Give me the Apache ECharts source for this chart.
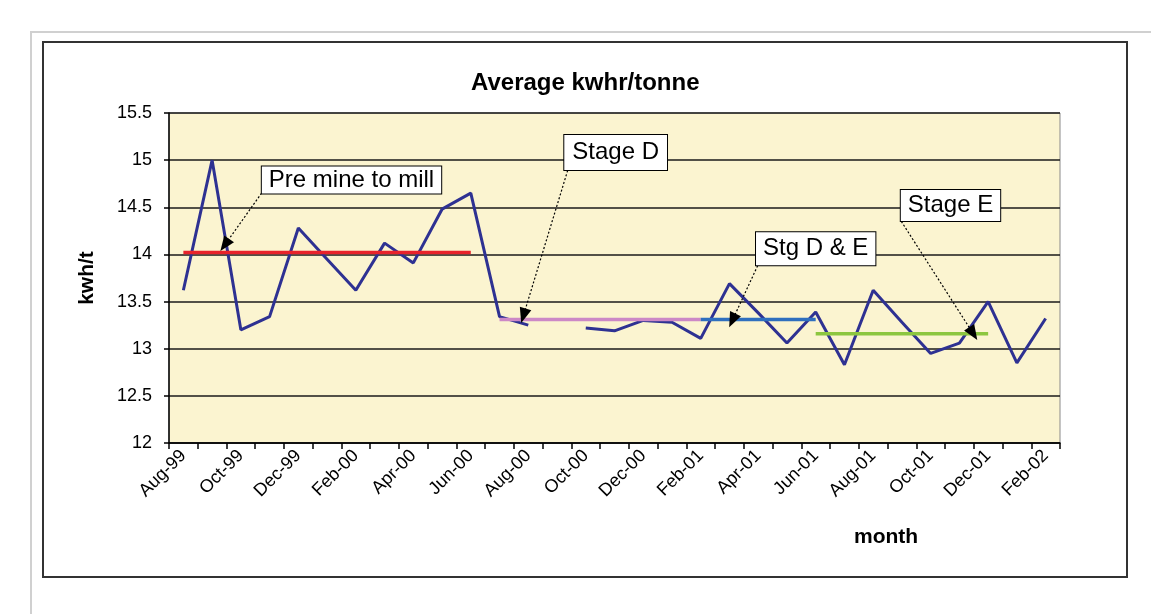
<!DOCTYPE html>
<html>
<head>
<meta charset="utf-8">
<title>Average kwhr/tonne</title>
<script src="https://cdn.jsdelivr.net/npm/echarts/dist/echarts.min.js"></script>
<style>
  html, body { margin: 0; padding: 0; background: #fff; }
  #energyChart { width: 1151px; height: 614px; }
</style>
</head>
<body>
<div id="energyChart"></div>
<script>
// months, Aug-99 .. Feb-02
var months = ['Aug-99','Sep-99','Oct-99','Nov-99','Dec-99','Jan-00','Feb-00','Mar-00','Apr-00','May-00','Jun-00','Jul-00',
              'Aug-00','Sep-00','Oct-00','Nov-00','Dec-00','Jan-01','Feb-01','Mar-01','Apr-01','May-01','Jun-01','Jul-01',
              'Aug-01','Sep-01','Oct-01','Nov-01','Dec-01','Jan-02','Feb-02'];
// average kwh/t per month (Sep-00 missing)
var kwht = [13.62, 15.00, 13.20, 13.34, 14.28, 13.95, 13.62, 14.12, 13.91, 14.48, 14.65, 13.34,
            13.25, null, 13.22, 13.19, 13.30, 13.28, 13.11, 13.69, 13.38, 13.06, 13.39, 12.83,
            13.62, 13.28, 12.95, 13.06, 13.50, 12.85, 13.32];
// stage averages: first month index, last month index, level
var stageNames = ['Pre mine to mill', 'Stage D', 'Stg D & E', 'Stage E'];
var stageStart = [0, 11, 18, 22];
var stageEnd   = [10, 18, 22, 28];
var stageLevel = [14.02, 13.31, 13.31, 13.16];
var stageColor = ['#e8232b', '#cc88c6', '#2f6fbe', '#8cc63f'];
// callouts: box centre, arrow start, arrow tip  [month index, kwh/t]
var noteBox  = [[5.85, 14.79], [15.04, 15.08], [22.00, 14.06], [26.69, 14.52]];
var noteFrom = [[2.72, 14.65], [13.37, 14.89], [19.98, 13.88], [24.98, 14.35]];
var noteTo   = [[1.44, 14.10], [11.83, 13.35], [19.10, 13.30], [27.48, 13.16]];
var notePad  = [[1, 7], [5, 8], [4, 7], [3, 7]];

var myChart = echarts.init(document.querySelector('#energyChart'));
var font = 'Liberation Sans, Arial, sans-serif';

var series = [{
  name: 'kwh/t',
  type: 'line',
  data: kwht,
  symbol: 'none',
  connectNulls: false,
  lineStyle: { color: '#2e3192', width: 3 },
  z: 3
}];
for (var s = 0; s < stageNames.length; s++) {
  var d = [];
  for (var i = 0; i < months.length; i++) {
    d.push(i >= stageStart[s] && i <= stageEnd[s] ? stageLevel[s] : null);
  }
  series.push({
    name: stageNames[s],
    type: 'line',
    data: d,
    symbol: 'none',
    lineStyle: { color: stageColor[s], width: 3.5 },
    z: 4
  });
}

var boxes = [], arrows = [];
for (var n = 0; n < stageNames.length; n++) {
  boxes.push({
    name: stageNames[n],
    coord: noteBox[n],
    label: { padding: notePad[n] }
  });
  arrows.push([{ coord: noteFrom[n] }, { coord: noteTo[n] }]);
}
// callouts live on a hidden value x axis so they can sit between months
series.push({
  type: 'scatter',
  xAxisIndex: 1,
  data: [],
  z: 6,
  markLine: {
    silent: true,
    symbol: ['none', 'triangle'],
    symbolSize: [12, 15],
    label: { show: false },
    lineStyle: { color: '#000', type: [2, 2], width: 1.2 },
    data: arrows
  },
  markPoint: {
    silent: true,
    symbol: 'rect',
    symbolSize: 0,
    label: {
      show: true,
      position: 'inside',
      formatter: '{b}',
      color: '#000',
      fontFamily: font,
      fontSize: 24,
      lineHeight: 25,
      backgroundColor: '#fff',
      borderColor: '#000',
      borderWidth: 1
    },
    data: boxes
  }
});

option = {
  animation: false,
  backgroundColor: '#fff',
  title: [{
    text: 'Average kwhr/tonne',
    left: 466,
    top: 66,
    textStyle: { fontFamily: font, fontSize: 24, fontWeight: 'bold', color: '#000' }
  }, {
    text: 'month',
    left: 849,
    top: 522,
    textStyle: { fontFamily: font, fontSize: 21, fontWeight: 'bold', color: '#000' }
  }],
  graphic: [{
    type: 'polyline',
    shape: { points: [[31, 614], [31, 32], [1151, 32]] },
    style: { stroke: '#d0d0d0', lineWidth: 2, fill: null },
    silent: true
  }, {
    type: 'rect',
    shape: { x: 43, y: 42, width: 1084, height: 535 },
    style: { stroke: '#333', lineWidth: 2, fill: null },
    silent: true
  }],
  grid: {
    left: 169,
    top: 113,
    width: 891,
    height: 330,
    show: true,
    backgroundColor: '#fbf4d0',
    borderColor: '#8a8a8a',
    borderWidth: 1
  },
  xAxis: [{
    type: 'category',
    data: months,
    boundaryGap: true,
    axisLine: { lineStyle: { color: '#000', width: 1.5 } },
    axisTick: { show: true, interval: 0, length: 6, lineStyle: { color: '#000', width: 1.5 } },
    axisLabel: {
      interval: 1,
      rotate: 45,
      margin: 10,
      color: '#000',
      fontFamily: font,
      fontSize: 18
    },
    splitLine: { show: false }
  }, {
    type: 'value',
    min: -0.5,
    max: 30.5,
    show: false,
    splitLine: { show: false }
  }],
  yAxis: {
    type: 'value',
    min: 12,
    max: 15.5,
    interval: 0.5,
    name: 'kwh/t',
    nameLocation: 'middle',
    nameRotate: 90,
    nameGap: 71,
    nameTextStyle: { fontFamily: font, fontSize: 21, fontWeight: 'bold', color: '#000' },
    axisLine: { show: true, onZero: false, lineStyle: { color: '#000', width: 1.5 } },
    axisTick: { show: true, length: 5, lineStyle: { color: '#000', width: 1.5 } },
    axisLabel: { margin: 17, color: '#000', fontFamily: font, fontSize: 18 },
    splitLine: { show: true, lineStyle: { color: '#1a1a1a', width: 1.5 } }
  },
  series: series
};

myChart.setOption(option);
window.addEventListener('resize', function () {
  myChart.resize();
})
</script>
</body>
</html>
